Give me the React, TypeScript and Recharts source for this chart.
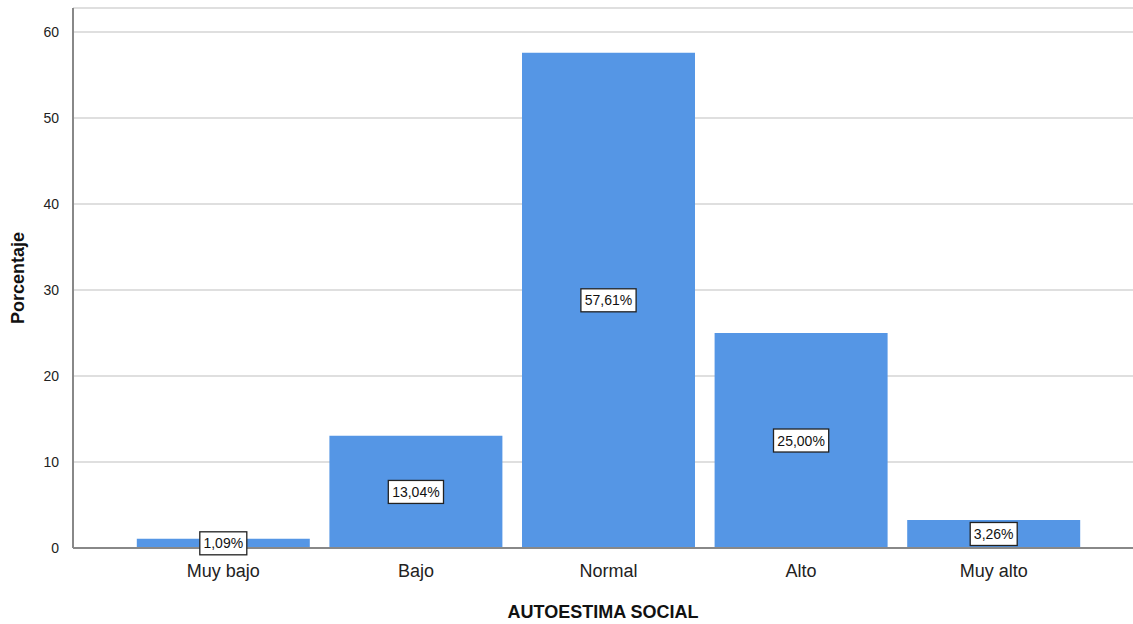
import React from 'react';
import { BarChart, Bar, XAxis, YAxis, CartesianGrid, LabelList, Label } from 'recharts';

const categories = ['Muy bajo', 'Bajo', 'Normal', 'Alto', 'Muy alto'];
const percentages = [1.09, 13.04, 57.61, 25.0, 3.26];
const yTicks = [0, 10, 20, 30, 40, 50, 60];

const data = categories.map((name, i) => ({ name, value: percentages[i] }));

const FONT = '"Liberation Sans", Arial, sans-serif';

const BoxLabel = (props: any) => {
  const { x, y, width, height, value } = props;
  const cx = x + width / 2;
  const cy = y + height / 2;
  const text = value.toFixed(2).replace('.', ',') + '%';
  const w = text.length * 8.2 + 6;
  const h = 23;
  return (
    <g>
      <rect x={cx - w / 2} y={cy - h / 2} width={w} height={h} fill="#fff" stroke="#222" strokeWidth={1.3} />
      <text x={cx} y={cy + 5} textAnchor="middle" fontSize={14} fontFamily={FONT} fill="#111">
        {text}
      </text>
    </g>
  );
};

const App: React.FC = () => {
  return (
    <div style={{ position: 'absolute', left: 0, top: 0, width: 1133, height: 624, background: '#fff' }}>
      <BarChart
        width={1133}
        height={624}
        data={data}
        margin={{ top: 8, right: 0, bottom: 0, left: 0 }}
        barCategoryGap={9.8}
      >
        <CartesianGrid vertical={false} stroke="#d4d4d4" strokeWidth={1.5} />
        <XAxis
          dataKey="name"
          height={76}
          padding={{ left: 54, right: 43 }}
          axisLine={{ stroke: '#888', strokeWidth: 2 }}
          tickLine={false}
          tick={{ fontSize: 18, fill: '#222', fontFamily: FONT }}
          tickMargin={10}
        >
          <Label
            value="AUTOESTIMA SOCIAL"
            position="insideBottom"
            offset={6}
            style={{ fontSize: 18, fontWeight: 'bold', fill: '#111', fontFamily: FONT }}
          />
        </XAxis>
        <YAxis
          width={73}
          domain={[0, 62.8]}
          ticks={yTicks}
          allowDataOverflow
          axisLine={{ stroke: '#888', strokeWidth: 2 }}
          tickLine={false}
          tick={{ fontSize: 14, fill: '#222', fontFamily: FONT }}
          tickMargin={8}
        >
          <Label
            value="Porcentaje"
            angle={-90}
            position="insideLeft"
            offset={18}
            style={{ textAnchor: 'middle', fontSize: 18, fontWeight: 'bold', fill: '#111', fontFamily: FONT }}
          />
        </YAxis>
        <Bar dataKey="value" fill="#5596e5" isAnimationActive={false}>
          <LabelList dataKey="value" content={BoxLabel} />
        </Bar>
      </BarChart>
    </div>
  );
};

export default App;
